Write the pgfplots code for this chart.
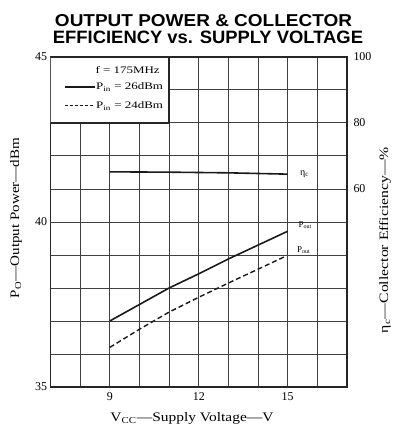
\documentclass[border=0pt]{standalone}
\usepackage{fontspec}
\setmainfont{Liberation Serif}
\newfontfamily\titlefont{Liberation Sans}
\usepackage{pgfplots}
\pgfplotsset{compat=1.18}
\usetikzlibrary{calc}
\newcommand\wide[1]{\scalebox{1.3}[1]{#1}}
\begin{document}
\begin{tikzpicture}
\pgfplotsset{
  common/.style={
    scale only axis, width=296.5bp, height=330bp,
    xmin=7, xmax=17,
    major tick length=0pt, minor tick length=0pt,
    axis line style={line width=1.3pt, black!85},
    tick label style={font=\fontsize{12}{12}\selectfont},
    /pgf/number format/assume math mode=true,
  }
}
\begin{axis}[common,
  ymin=35, ymax=45,
  xtick={9,12,15}, ytick={35,40,45},
  minor xtick={7,...,17}, minor ytick={35,...,45},
  grid=both,
  major grid style={black!75, line width=1pt},
  minor grid style={black!75, line width=1pt},
  xtick pos=bottom, ytick pos=left,
  xticklabel style={yshift=-2bp},
]
\coordinate (pSW) at (rel axis cs:0,0);
\coordinate (pNE) at (rel axis cs:1,1);
% P_in = 26 dBm
\addplot[black!90, line width=1.6pt] coordinates {
 (9,37.0) (10,37.5) (11,38.0) (12,38.43) (13,38.88) (14,39.3) (15,39.72)};
% P_in = 24 dBm
\addplot[black!90, line width=1.4pt, dash pattern=on 5pt off 3pt] coordinates {
 (9,36.2) (10,36.75) (11,37.27) (12,37.72) (13,38.15) (14,38.57) (14.9,38.95)};
\node[anchor=west, font=\fontsize{9}{9}\selectfont] at (axis cs:15.25,39.9) {P\textsubscript{out}};
\node[anchor=west, font=\fontsize{9}{9}\selectfont] at (axis cs:15.2,39.15) {P\textsubscript{out}};
% legend box
\draw[line width=1.3pt, black!85, fill=white] (axis cs:7,43) rectangle (axis cs:11,45);
\node[anchor=east, font=\fontsize{10}{10}\selectfont] at (axis cs:10.8,44.6) {\wide{f = 175MHz}};
\draw[black!90, line width=1.3pt] (axis cs:7.5,44.09) -- (axis cs:8.5,44.09);
\node[anchor=west, font=\fontsize{10}{10}\selectfont, inner sep=1pt] at (axis cs:8.5,44.09) {\wide{P\textsubscript{in} = 26dBm}};
\draw[black!90, line width=1.2pt, dash pattern=on 3pt off 2pt] (axis cs:7.5,43.52) -- (axis cs:8.5,43.52);
\node[anchor=west, font=\fontsize{10}{10}\selectfont, inner sep=1pt] at (axis cs:8.5,43.52) {\wide{P\textsubscript{in} = 24dBm}};
\end{axis}
\begin{axis}[common,
  ymin=0, ymax=100,
  ytick={60,80,100},
  hide x axis,
  axis y line*=right,
  yticklabel style={xshift=3bp},
]
\addplot[black!90, line width=1.6pt] coordinates {
 (9,65.2) (11,65.1) (13,64.9) (15,64.5)};
\node[anchor=west, font=\fontsize{10}{10}\selectfont] at (axis cs:15.3,64.6) {η\textsubscript{c}};
\end{axis}
% titles
\node[anchor=base] at ($(pSW)+(153bp,360bp)$) {\resizebox{297bp}{12bp}{\titlefont\bfseries OUTPUT POWER \& COLLECTOR}};
\node[anchor=base] at ($(pSW)+(157.5bp,343bp)$) {\resizebox{310bp}{12.5bp}{\titlefont\bfseries EFFICIENCY vs. SUPPLY VOLTAGE}};
% axis labels
\node[rotate=90] at ($(pSW)+(-34.5bp,169bp)$) {\resizebox{160bp}{9bp}{P\textsubscript{O}—Output Power—dBm}};
\node at ($(pSW)+(141.5bp,-31bp)$) {\resizebox{163bp}{9bp}{V\textsubscript{CC}—Supply Voltage—V}};
\node[rotate=90] at ($(pSW)+(334.5bp,147bp)$) {\resizebox{186bp}{9bp}{η\textsubscript{c}—Collector Efficiency—\%}};
\pgfresetboundingbox
\path ($(pSW)+(-50.5bp,-42bp)$) rectangle ($(pNE)+(56bp,57bp)$);
\end{tikzpicture}
\end{document}
